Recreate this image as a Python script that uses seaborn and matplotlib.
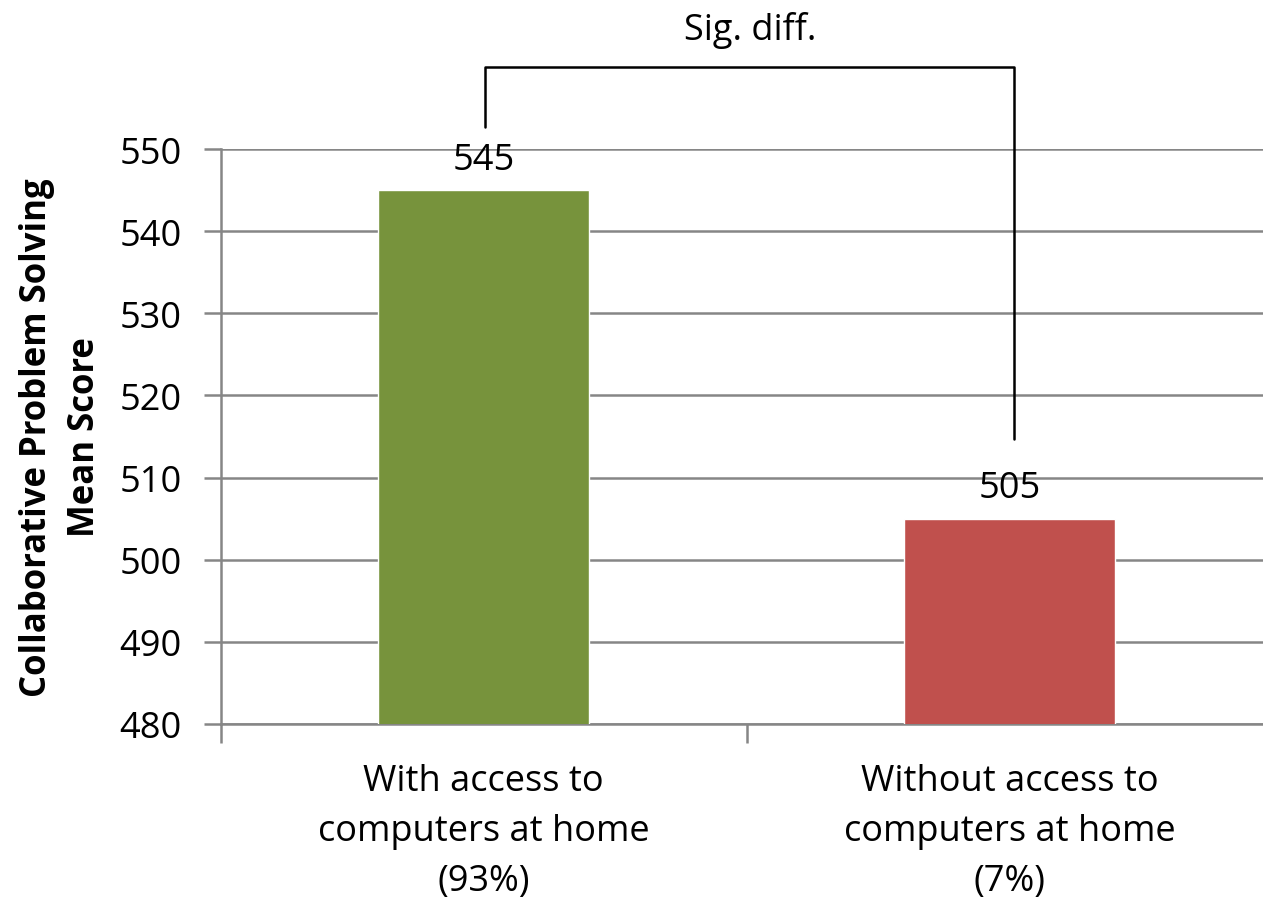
import matplotlib
matplotlib.use("Agg")
import matplotlib.pyplot as plt
import seaborn as sns
import pandas as pd

categories = ["With access to\ncomputers at home\n(93%)",
              "Without access to\ncomputers at home\n(7%)"]
scores = [545, 505]
bar_colors = ["#77933C", "#C0504D"]
y_ticks = [480, 490, 500, 510, 520, 530, 540, 550]
y_label = "Collaborative Problem Solving\nMean Score"
sig_text = "Sig. diff."

sns.set_theme(style="white")
plt.rcParams['font.family'] = ['Open Sans', 'DejaVu Sans']
plt.rcParams['text.color'] = 'black'
plt.rcParams['axes.labelcolor'] = 'black'
plt.rcParams['xtick.color'] = 'black'
plt.rcParams['ytick.color'] = 'black'

fig = plt.figure(figsize=(12.63, 9.03), dpi=100)
ax = fig.add_axes([220.5 / 1263, 178 / 903, 1052 / 1263, 575 / 903])

df = pd.DataFrame({"cat": categories, "score": scores})
sns.barplot(data=df, x="cat", y="score", hue="cat", palette=bar_colors,
            width=0.4, legend=False, ax=ax, saturation=1, zorder=3)

ax.set_xlim(-0.5, 1.5)
ax.set_ylim(480, 550)
ax.set_yticks(y_ticks)
grid_gray = "#868686"
ax.yaxis.grid(True, color=grid_gray, linewidth=1.8, zorder=0)
ax.set_axisbelow(True)

for s in ["top", "right"]:
    ax.spines[s].set_visible(False)
for s in ["left", "bottom"]:
    ax.spines[s].set_color(grid_gray)
    ax.spines[s].set_linewidth(1.8)

ax.tick_params(axis="y", which="major", length=12, width=1.8, color=grid_gray,
               labelcolor="black", labelsize=26, pad=16, left=True)
ax.set_xticks([0, 1])
ax.set_xticklabels(categories, fontsize=26, linespacing=1.52, color="black")
ax.tick_params(axis="x", which="major", length=0, pad=28)
ax.set_xticks([-0.5, 0.5, 1.5], minor=True)
ax.tick_params(axis="x", which="minor", length=14, width=1.8, color=grid_gray, bottom=True)

ax.set_xlabel("")
ax.set_ylabel(y_label, fontsize=25, fontweight="bold", linespacing=1.45,
              labelpad=12, color="black")

for i, v in enumerate(scores):
    ax.text(i, v + 1.5, str(v), ha="center", va="bottom", fontsize=26,
            color="black", zorder=5)

# significance bracket
ax.plot([0.003, 0.003, 1.008, 1.008], [552.7, 560.0, 560.0, 514.7],
        color="black", linewidth=1.8, clip_on=False, zorder=6)
ax.text(0.507, 564.6, sig_text, ha="center", va="center", fontsize=26,
        color="black")

fig.savefig("out.png", dpi=100)
